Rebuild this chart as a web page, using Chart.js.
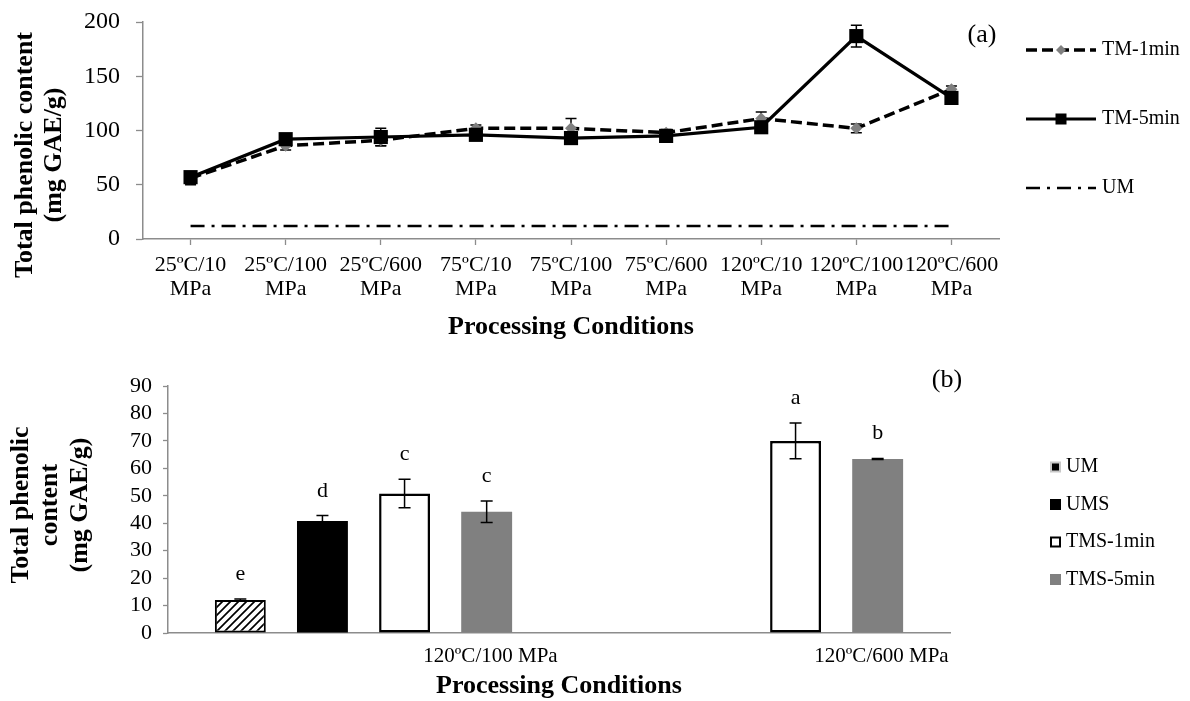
<!DOCTYPE html>
<html>
<head>
<meta charset="utf-8">
<script src="https://cdn.jsdelivr.net/npm/chart.js@4.4.0/dist/chart.umd.min.js"></script>
<style>
  html, body { margin: 0; padding: 0; background: #fff; }
  #wrap { position: relative; width: 1190px; height: 701px; overflow: hidden; }
  #chart-a { position: absolute; left: 0; top: 0; }
  #chart-b { position: absolute; left: 0; top: 360px; }
</style>
</head>
<body>
<div id="wrap">
  <canvas id="chart-a" width="1190" height="360"></canvas>
  <canvas id="chart-b" width="1190" height="341"></canvas>
</div>
<script>
// (a) processing conditions and phenolic content (mg GAE/g)
const conditions = [
  ['25ºC/10', 'MPa'], ['25ºC/100', 'MPa'], ['25ºC/600', 'MPa'],
  ['75ºC/10', 'MPa'], ['75ºC/100', 'MPa'], ['75ºC/600', 'MPa'],
  ['120ºC/10', 'MPa'], ['120ºC/100', 'MPa'], ['120ºC/600', 'MPa']
];
const tm1min = [56, 86, 91, 102, 102, 98, 111, 102, 138];
const tm1minErr = [6, 4, 5, 3, 9, 3, 6, 4, 3];
const tm5min = [57, 92, 94, 96, 93, 95, 103, 187, 130];
const tm5minErr = [4, 3, 8, 3, 3, 3, 3, 10, 3];
const umLine = [12, 12, 12, 12, 12, 12, 12, 12, 12];

// (b) bars
const groups = ['120ºC/100 MPa', '120ºC/600 MPa'];
const umBar = [12, null];
const umBarErr = [0.4, 0];
const umsBar = [40.8, null];
const umsBarErr = [2, 0];
const tms1Bar = [50.8, 70];
const tms1BarErr = [5.2, 6.5];
const tms5Bar = [44.2, 63.4];
const tms5BarErr = [3.9, 0.2];
const umLetters = ['e', ''];
const umsLetters = ['d', ''];
const tms1Letters = ['c', 'a'];
const tms5Letters = ['c', 'b'];

const SERIF = "'Liberation Serif', 'Times New Roman', serif";
const AXIS_GRAY = '#8c8c8c';
Chart.defaults.font.family = SERIF;
Chart.defaults.color = '#000';

function makeHatch() {
  const c = document.createElement('canvas');
  c.width = 8; c.height = 8;
  const g = c.getContext('2d');
  g.fillStyle = '#fff';
  g.fillRect(0, 0, 8, 8);
  g.strokeStyle = '#000';
  g.lineWidth = 1.7;
  g.beginPath();
  g.moveTo(0, 8); g.lineTo(8, 0);
  g.moveTo(-1, 1); g.lineTo(1, -1);
  g.moveTo(7, 9); g.lineTo(9, 7);
  g.stroke();
  return document.createElement('canvas').getContext('2d').createPattern(c, 'repeat');
}

// error bars, drawn behind the markers (line) or on top of the bars
const errorBars = {
  id: 'errorBars',
  draw(chart) {
    const ctx = chart.ctx;
    const y = chart.scales.y;
    chart.data.datasets.forEach((ds, i) => {
      if (!ds.errors) return;
      const meta = chart.getDatasetMeta(i);
      meta.data.forEach((el, j) => {
        const v = ds.data[j], e = ds.errors[j];
        if (v == null || !e) return;
        const top = y.getPixelForValue(v + e);
        const bot = y.getPixelForValue(v - e);
        const w = ds.capWidth || 12;
        ctx.save();
        ctx.strokeStyle = ds.errorColor || '#000';
        ctx.lineWidth = 1.5;
        ctx.beginPath();
        ctx.moveTo(el.x, top); ctx.lineTo(el.x, bot);
        ctx.moveTo(el.x - w / 2, top); ctx.lineTo(el.x + w / 2, top);
        ctx.moveTo(el.x - w / 2, bot); ctx.lineTo(el.x + w / 2, bot);
        ctx.stroke();
        ctx.restore();
      });
    });
  },
  beforeDatasetsDraw(chart, args, opts) { if (opts.behind) this.draw(chart); },
  afterDatasetsDraw(chart, args, opts) { if (!opts.behind) this.draw(chart); }
};

// significance letters above the bars
const barLetters = {
  id: 'barLetters',
  afterDatasetsDraw(chart) {
    const ctx = chart.ctx;
    const y = chart.scales.y;
    ctx.save();
    ctx.font = '22px ' + SERIF;
    ctx.fillStyle = '#000';
    ctx.textAlign = 'center';
    ctx.textBaseline = 'alphabetic';
    chart.data.datasets.forEach((ds, i) => {
      if (!ds.letters) return;
      chart.getDatasetMeta(i).data.forEach((el, j) => {
        if (ds.data[j] == null || !ds.letters[j]) return;
        const top = y.getPixelForValue(ds.data[j] + (ds.errors[j] || 0));
        ctx.fillText(ds.letters[j], el.x, top - 19);
      });
    });
    ctx.restore();
  }
};

// rotated y title + panel letter
const sideTexts = {
  id: 'sideTexts',
  afterDraw(chart, args, opts) {
    const ctx = chart.ctx;
    ctx.save();
    ctx.fillStyle = '#000';
    ctx.font = 'bold 26px ' + SERIF;
    ctx.textAlign = 'center';
    ctx.textBaseline = 'middle';
    opts.yTitle.forEach((line, k) => {
      ctx.save();
      ctx.translate(opts.yTitleX[k], opts.yTitleY);
      ctx.rotate(-Math.PI / 2);
      ctx.fillText(line, 0, 0);
      ctx.restore();
    });
    ctx.font = '26px ' + SERIF;
    ctx.fillText(opts.panel, opts.panelX, opts.panelY);
    ctx.restore();
  }
};

// legend for (a): line samples with markers
const lineLegend = {
  id: 'lineLegend',
  afterDraw(chart, args, opts) {
    const ctx = chart.ctx;
    const x0 = opts.x, x1 = opts.x + opts.len, xm = (x0 + x1) / 2;
    ctx.save();
    opts.items.forEach((it, k) => {
      const ds = chart.data.datasets[it.dataset];
      const yy = opts.y + k * opts.step;
      ctx.strokeStyle = ds.borderColor;
      ctx.lineWidth = ds.borderWidth;
      ctx.setLineDash(ds.borderDash || []);
      ctx.beginPath();
      ctx.moveTo(x0, yy); ctx.lineTo(x1, yy);
      ctx.stroke();
      ctx.setLineDash([]);
      ctx.fillStyle = ds.pointBackgroundColor;
      if (ds.pointStyle === 'rectRot' && ds.pointRadius) {
        ctx.beginPath();
        ctx.moveTo(xm - 5, yy); ctx.lineTo(xm, yy - 5);
        ctx.lineTo(xm + 5, yy); ctx.lineTo(xm, yy + 5);
        ctx.closePath(); ctx.fill();
      } else if (ds.pointStyle === 'rect' && ds.pointRadius) {
        ctx.fillRect(xm - 5.5, yy - 5.5, 11, 11);
      }
      ctx.fillStyle = '#000';
      ctx.font = '20px ' + SERIF;
      ctx.textAlign = 'left';
      ctx.textBaseline = 'middle';
      ctx.fillText(ds.label, opts.textX, yy);
    });
    ctx.restore();
  }
};

// legend for (b): small squares
const boxLegend = {
  id: 'boxLegend',
  afterDraw(chart, args, opts) {
    const ctx = chart.ctx;
    ctx.save();
    chart.data.datasets.forEach((ds, k) => {
      const yy = opts.y + k * opts.step;
      const x = opts.x, s = 11;
      if (ds.legendKind === 'hatch') {
        ctx.fillStyle = '#c8c8c8';
        ctx.fillRect(x, yy - s / 2, s, s);
        ctx.fillStyle = '#000';
        ctx.fillRect(x + 2, yy - s / 2 + 2, s - 4, s - 4);
      } else if (ds.legendKind === 'outline') {
        ctx.fillStyle = '#fff';
        ctx.fillRect(x, yy - s / 2, s, s);
        ctx.strokeStyle = '#000';
        ctx.lineWidth = 2;
        ctx.strokeRect(x + 1, yy - s / 2 + 1, s - 2, s - 2);
      } else {
        ctx.fillStyle = ds.backgroundColor;
        ctx.fillRect(x, yy - s / 2, s, s);
      }
      ctx.fillStyle = '#000';
      ctx.font = '20px ' + SERIF;
      ctx.textAlign = 'left';
      ctx.textBaseline = 'middle';
      ctx.fillText(ds.label, opts.textX, yy);
    });
    ctx.restore();
  }
};

function axisGrid(tickLength, drawTicks) {
  return { drawOnChartArea: false, drawTicks: drawTicks, tickLength: tickLength, tickColor: AXIS_GRAY, tickWidth: 1.3, offset: false };
}

document.addEventListener('DOMContentLoaded', () => {
  // (a) line chart
  new Chart(document.getElementById('chart-a'), {
    type: 'line',
    data: {
      labels: conditions,
      datasets: [
        {
          label: 'TM-1min', data: tm1min, errors: tm1minErr, order: 1,
          borderColor: '#000', borderWidth: 3.5, borderDash: [11, 5],
          pointStyle: 'rectRot', pointRadius: 6, pointBackgroundColor: '#808080',
          pointBorderWidth: 0, pointBorderColor: '#808080', capWidth: 11, tension: 0
        },
        {
          label: 'TM-5min', data: tm5min, errors: tm5minErr, order: 0,
          borderColor: '#000', borderWidth: 3.2,
          pointStyle: 'rect', pointRadius: 10, pointBackgroundColor: '#000',
          pointBorderWidth: 0, pointBorderColor: '#000', capWidth: 11, tension: 0
        },
        {
          label: 'UM', data: umLine, order: 2,
          borderColor: '#000', borderWidth: 2.5, borderDash: [14, 7, 3, 7],
          pointRadius: 0, pointBackgroundColor: '#000', tension: 0
        }
      ]
    },
    options: {
      responsive: false,
      animation: false,
      layout: { padding: { top: 22, right: 191, left: 0, bottom: 0 } },
      scales: {
        x: {
          offset: true,
          grid: axisGrid(6, true),
          border: { color: AXIS_GRAY, width: 1.5 },
          ticks: { autoSkip: false, maxRotation: 0, minRotation: 0, padding: 8, font: { size: 22, lineHeight: 1.1 } },
          title: { display: true, text: 'Processing Conditions', font: { size: 26, weight: 'bold', lineHeight: 1.2 }, padding: { top: 0, bottom: 17 } },
          afterFit: (scale) => { scale.height = 121; }
        },
        y: {
          min: 0, max: 200,
          grid: axisGrid(7, true),
          border: { color: AXIS_GRAY, width: 1.5 },
          ticks: { stepSize: 50, autoSkip: false, padding: 16, font: { size: 24 } },
          afterFit: (scale) => { scale.width = 143; scale.paddingTop = 0; scale.paddingBottom = 0; }
        }
      },
      plugins: {
        legend: { display: false },
        tooltip: { enabled: false },
        errorBars: { behind: true },
        sideTexts: { yTitle: ['Total phenolic content', '(mg GAE/g)'], yTitleX: [25, 54.5], yTitleY: 155, panel: '(a)', panelX: 982, panelY: 35 },
        lineLegend: { x: 1026, len: 70, textX: 1102, y: 50, step: 69, items: [{ dataset: 0 }, { dataset: 1 }, { dataset: 2 }] }
      }
    },
    plugins: [errorBars, sideTexts, lineLegend]
  });

  // (b) bar chart
  new Chart(document.getElementById('chart-b'), {
    type: 'bar',
    data: {
      labels: groups,
      datasets: [
        { label: 'UM', data: umBar, errors: umBarErr, letters: umLetters, legendKind: 'hatch',
          backgroundColor: makeHatch(), borderColor: '#000', borderWidth: 2, borderSkipped: false },
        { label: 'UMS', data: umsBar, errors: umsBarErr, letters: umsLetters, legendKind: 'solid',
          backgroundColor: '#000', borderWidth: 0 },
        { label: 'TMS-1min', data: tms1Bar, errors: tms1BarErr, letters: tms1Letters, legendKind: 'outline',
          backgroundColor: '#fff', borderColor: '#000', borderWidth: 2.5, borderSkipped: false },
        { label: 'TMS-5min', data: tms5Bar, errors: tms5BarErr, letters: tms5Letters, legendKind: 'solid',
          backgroundColor: '#808080', borderWidth: 0 }
      ]
    },
    options: {
      responsive: false,
      animation: false,
      layout: { padding: { top: 26, right: 240, left: 0, bottom: 0 } },
      datasets: { bar: { categoryPercentage: 0.84, barPercentage: 0.62 } },
      scales: {
        x: {
          grid: axisGrid(0, false),
          border: { color: AXIS_GRAY, width: 1.5 },
          ticks: { autoSkip: false, maxRotation: 0, minRotation: 0, padding: 12, labelOffset: 127, font: { size: 21, lineHeight: 1.1 } },
          title: { display: true, text: 'Processing Conditions', font: { size: 26, weight: 'bold', lineHeight: 1.0 }, padding: { top: 0, bottom: 2 } },
          afterFit: (scale) => { scale.height = 68; }
        },
        y: {
          min: 0, max: 90,
          grid: axisGrid(5, true),
          border: { color: AXIS_GRAY, width: 1.5 },
          ticks: { stepSize: 10, autoSkip: false, padding: 11, font: { size: 22, lineHeight: 1 } },
          afterFit: (scale) => { scale.width = 168; scale.paddingTop = 0; scale.paddingBottom = 0; }
        }
      },
      plugins: {
        legend: { display: false },
        tooltip: { enabled: false },
        errorBars: { behind: false },
        sideTexts: { yTitle: ['Total phenolic', 'content', '(mg GAE/g)'], yTitleX: [21, 50.5, 80], yTitleY: 145, panel: '(b)', panelX: 947, panelY: 20 },
        boxLegend: { x: 1050, textX: 1066, y: 107, step: 37.5 }
      }
    },
    plugins: [errorBars, barLetters, sideTexts, boxLegend]
  });
});
</script>
</body>
</html>
